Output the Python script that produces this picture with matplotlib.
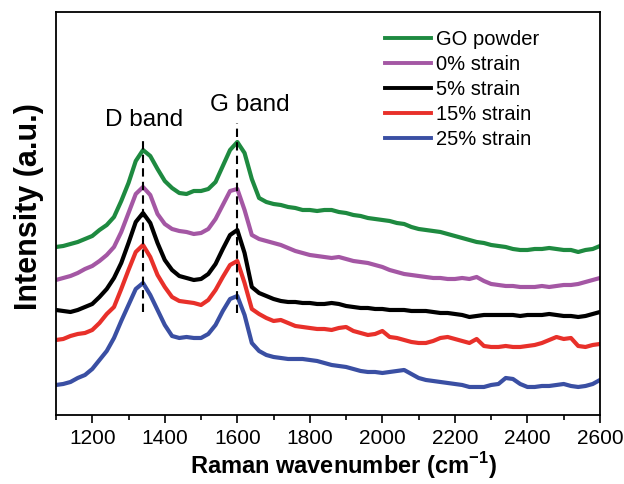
import matplotlib
matplotlib.use("Agg")
import matplotlib.pyplot as plt
from matplotlib.ticker import MultipleLocator

plt.rcParams['font.family'] = ['Liberation Sans', 'DejaVu Sans']

wavenumber = list(range(1100, 2601, 20))

go_powder = [168, 169, 171, 173, 176, 179, 185, 190, 198, 214, 232, 254, 265, 259, 246, 234, 227, 222, 221, 224,
             224, 226, 233, 249, 265, 273, 262, 236, 217, 213, 211, 210, 208, 207, 205, 205, 204, 205, 205, 203,
             202, 200, 199, 197, 196, 195, 194, 192, 191, 188, 186, 185, 184, 183, 181, 179, 177, 175, 173, 172,
             170, 169, 168, 166, 165, 165, 166, 166, 167, 166, 165, 165, 163, 165, 166, 169]
strain_0 = [135, 137, 139, 142, 146, 149, 154, 160, 168, 183, 202, 221, 228, 220, 201, 191, 186, 184, 183, 181,
            182, 186, 196, 210, 224, 226, 205, 180, 176, 174, 172, 170, 167, 164, 162, 160, 159, 158, 157, 158,
            156, 154, 153, 152, 150, 148, 145, 143, 141, 140, 139, 138, 137, 137, 136, 136, 137, 136, 138, 134,
            131, 130, 129, 129, 128, 128, 128, 129, 128, 129, 130, 130, 131, 133, 135, 137]
strain_5 = [105, 104, 103, 105, 108, 111, 118, 126, 137, 152, 172, 193, 202, 192, 172, 155, 145, 139, 137, 135,
            136, 141, 151, 166, 180, 185, 162, 128, 122, 119, 116, 114, 113, 113, 112, 112, 111, 111, 112, 111,
            109, 108, 107, 107, 106, 106, 105, 105, 105, 104, 104, 104, 103, 102, 102, 101, 100, 98, 99, 100,
            100, 100, 100, 100, 99, 100, 100, 100, 101, 100, 99, 99, 98, 99, 101, 103]
strain_15 = [75, 76, 79, 81, 82, 85, 92, 101, 108, 126, 145, 163, 170, 158, 140, 128, 118, 114, 113, 112,
             110, 115, 125, 138, 150, 154, 132, 106, 101, 97, 94, 95, 92, 89, 88, 87, 86, 86, 85, 87,
             88, 84, 82, 80, 81, 84, 78, 77, 75, 73, 72, 72, 74, 77, 78, 76, 74, 72, 76, 69,
             68, 68, 69, 68, 68, 69, 70, 72, 75, 78, 76, 77, 69, 68, 70, 71]
strain_25 = [30, 31, 33, 37, 40, 46, 55, 64, 77, 94, 110, 126, 132, 120, 105, 90, 79, 77, 78, 77,
             77, 81, 90, 104, 116, 119, 100, 72, 64, 60, 58, 57, 56, 56, 56, 55, 54, 52, 50, 49,
             48, 46, 44, 43, 43, 42, 43, 44, 45, 41, 37, 35, 34, 33, 32, 31, 30, 28, 28, 28,
             30, 31, 37, 36, 31, 28, 28, 29, 29, 30, 31, 29, 28, 29, 31, 35]

labels = ["GO powder", "0% strain", "5% strain", "15% strain", "25% strain"]
colors = ["#1e8a40", "#a457a4", "#000000", "#e8302a", "#3a4fa3"]
series = [go_powder, strain_0, strain_5, strain_15, strain_25]

band_positions = [1340, 1598]
band_labels = ["D band", "G band"]

fig = plt.figure(figsize=(6.24, 4.84), dpi=100)
ax = fig.add_axes([0.0897, 0.1426, 0.8718, 0.8326])

for y, c, lab in zip(series, colors, labels):
    ax.plot(wavenumber, y, color=c, lw=3.0, label=lab, solid_joinstyle='round')

ax.plot([band_positions[0]] * 2, [103, 275], color='black', lw=1.5, ls=(0, (4, 2.5)))
ax.plot([band_positions[1]] * 2, [102, 292], color='black', lw=1.5, ls=(0, (4, 2.5)))
ax.text(1342, 295, band_labels[0], fontsize=17.5, ha='center', va='center')
ax.text(1635, 310, band_labels[1], fontsize=17.5, ha='center', va='center')

ax.set_xlim(1100, 2600)
ax.set_ylim(0, 403)
ax.xaxis.set_major_locator(MultipleLocator(200))
ax.xaxis.set_minor_locator(MultipleLocator(100))
ax.tick_params(axis='x', which='major', direction='out', length=6, width=1.2, labelsize=15, pad=4)
ax.tick_params(axis='x', which='minor', direction='out', length=3.5, width=1.2)
ax.set_yticks([])
for s in ax.spines.values():
    s.set_linewidth(1.3)

ax.set_xlabel("Raman wavenumber (cm$^{\\mathregular{-1}}$)", fontsize=17, fontweight='bold')
ax.xaxis.set_label_coords(0.528, -0.088)
ax.set_ylabel("Intensity (a.u.)", fontsize=22, fontweight='bold')
ax.yaxis.set_label_coords(-0.022, 0.516)

leg = ax.legend(loc='upper left', bbox_to_anchor=(0.605, 0.955), frameon=False, fontsize=14.5,
                handlelength=2.3, handletextpad=0.25, labelspacing=0.3, borderpad=0, borderaxespad=0)
for h in leg.get_lines():
    h.set_linewidth(2.8)

fig.savefig("out.png", dpi=100)
